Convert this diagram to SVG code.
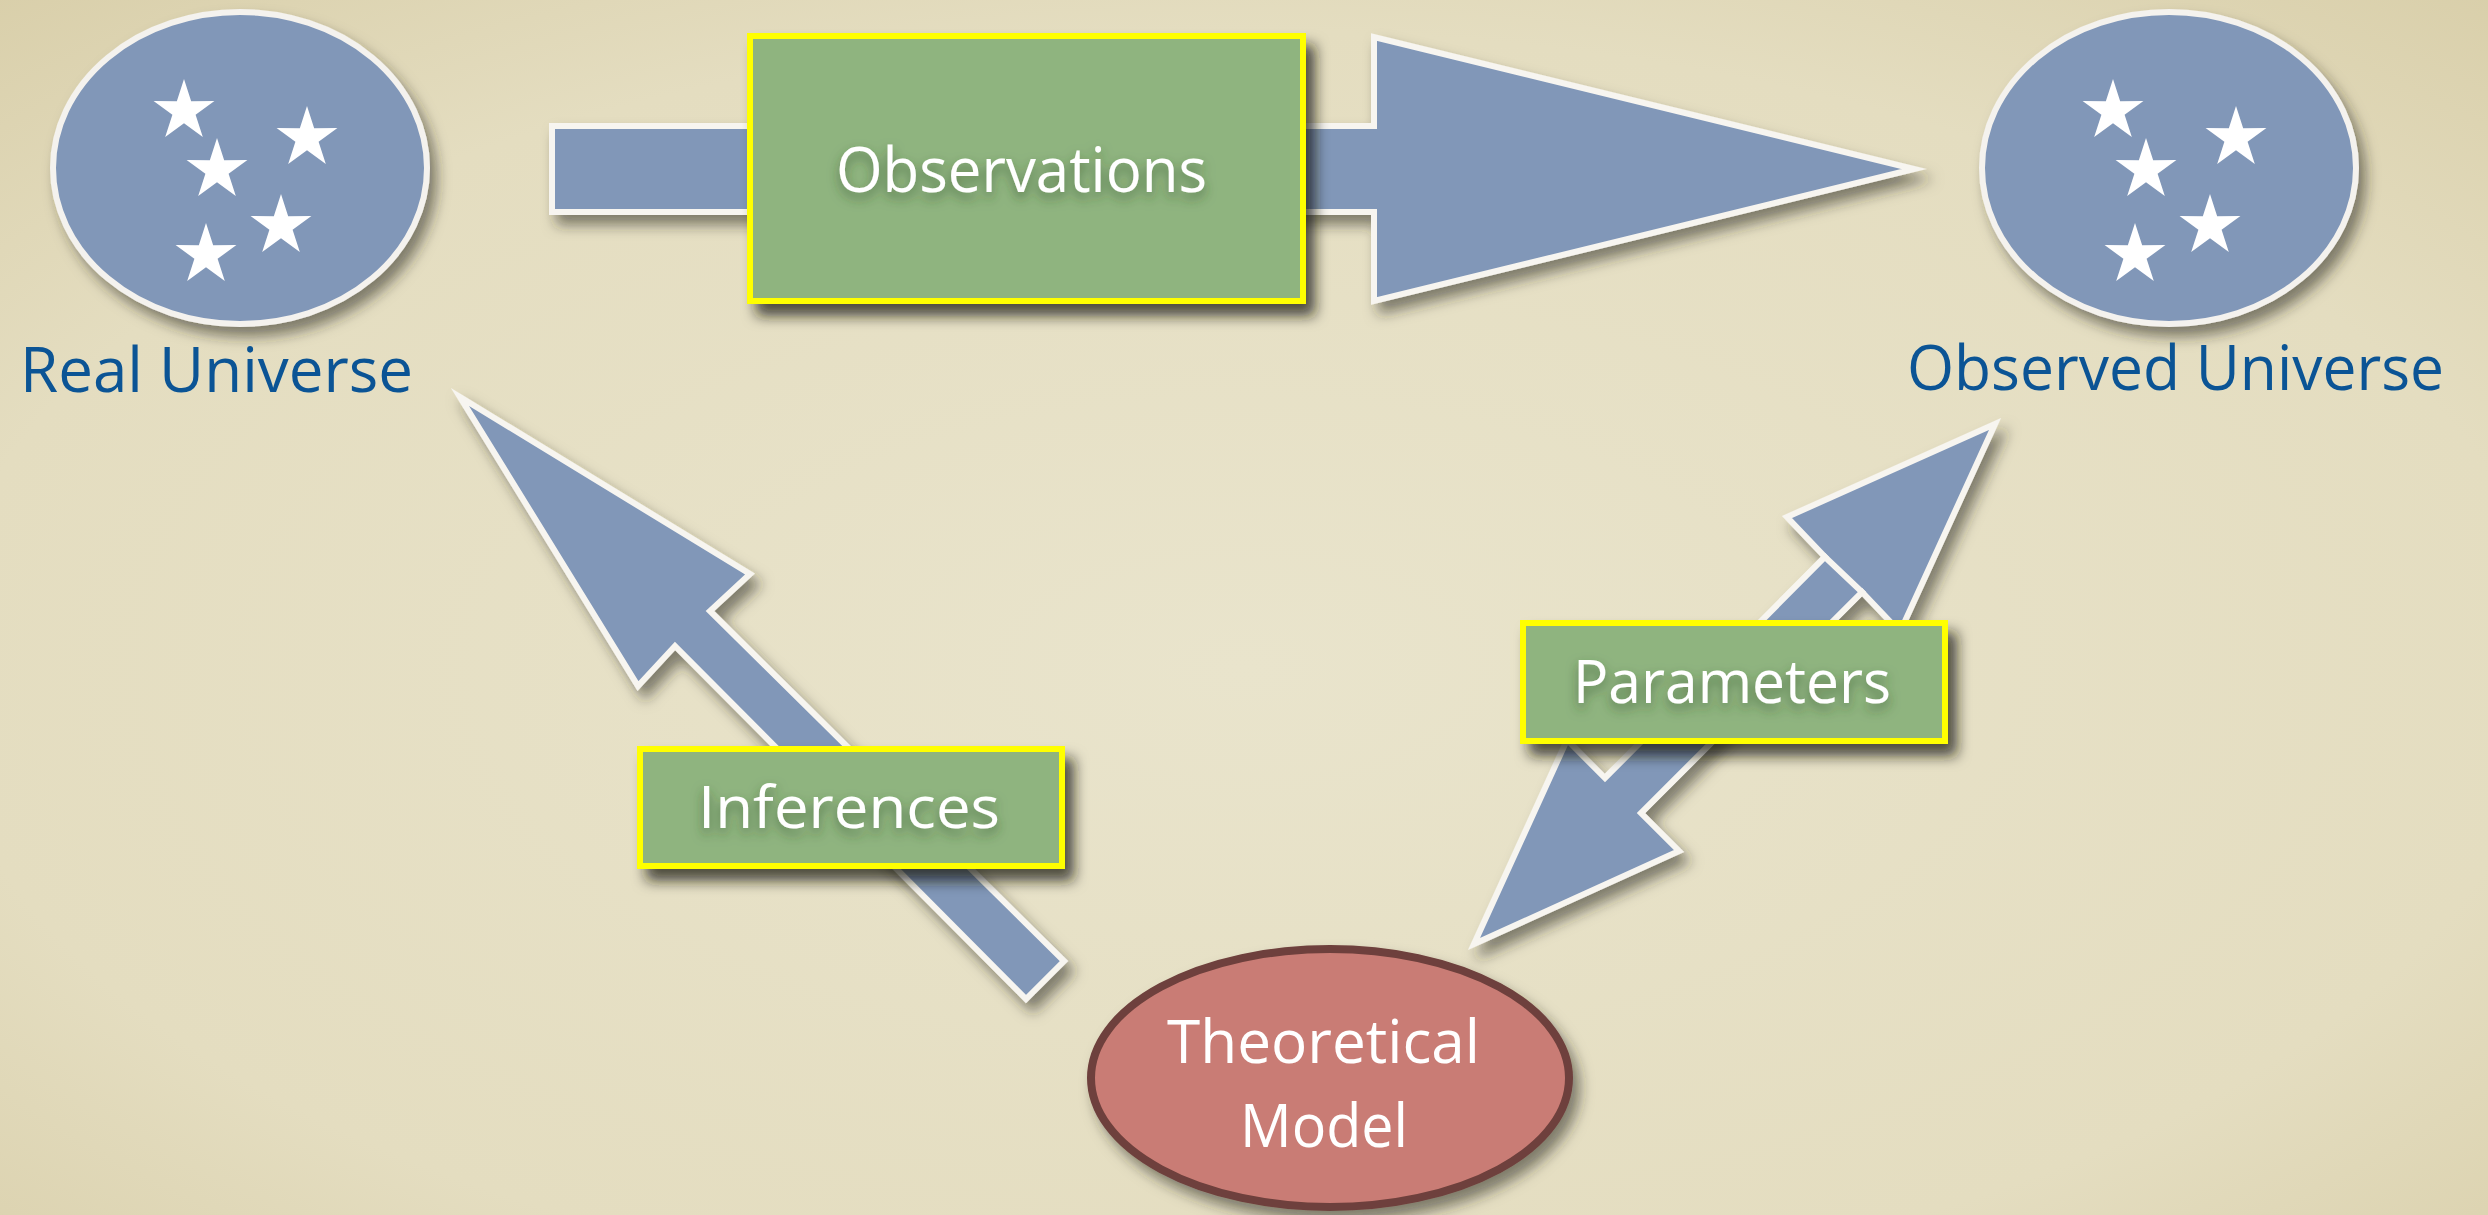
<svg xmlns="http://www.w3.org/2000/svg" width="2488" height="1215" viewBox="0 0 2488 1215">
<defs>
  <radialGradient id="bg" cx="50%" cy="55%" r="75%">
    <stop offset="0" stop-color="#E9E4CC"/>
    <stop offset="0.7" stop-color="#E4DDC0"/>
    <stop offset="1" stop-color="#D9CFAA"/>
  </radialGradient>
  <filter id="sh" x="-20%" y="-20%" width="140%" height="150%">
    <feDropShadow dx="7" dy="10" stdDeviation="7" flood-color="#2a2a1a" flood-opacity="0.55"/>
  </filter>
  <filter id="shBox" x="-20%" y="-20%" width="140%" height="150%">
    <feDropShadow dx="9" dy="12" stdDeviation="7" flood-color="#1a1a10" flood-opacity="0.75"/>
  </filter>
  <filter id="txtGlow" x="-10%" y="-30%" width="120%" height="170%">
    <feDropShadow dx="0" dy="6" stdDeviation="6" flood-color="#2f4a25" flood-opacity="0.6"/>
  </filter>
  <path id="star" d="M0,-32 L7.17,-9.87 L30.43,-9.89 L11.6,3.77 L18.81,25.89 L0,12.2 L-18.81,25.89 L-11.6,3.77 L-30.43,-9.89 L-7.17,-9.87 Z" fill="#FFFFFF"/>
  <g id="stars">
    <use href="#star" x="-56" y="-57"/>
    <use href="#star" x="67" y="-30"/>
    <use href="#star" x="-23" y="2"/>
    <use href="#star" x="41" y="58"/>
    <use href="#star" x="-34" y="87"/>
  </g>
  <style>
    .arrow { fill: #8197B8; stroke: #F7F5F0; stroke-width: 6; stroke-linejoin: miter; stroke-miterlimit: 10; }
    .uni { fill: #8197B8; stroke: #F4F2EE; stroke-width: 6; }
    .lbl { fill: #8FB47F; stroke: #FFFF00; stroke-width: 6; }
    .model { fill: #C97C75; stroke: #6E403C; stroke-width: 8; }
    .t { font-family: "Open Sans", "Noto Sans", "DejaVu Sans", sans-serif; }
    .blue { fill: #0B5495; font-size: 62px; }
    .white { fill: #FFFFFF; }
  </style>
</defs>
<rect x="0" y="0" width="2488" height="1215" fill="url(#bg)"/>

<g id="connectors">
  <g id="edge-observations" filter="url(#sh)">
    <path class="arrow" d="M552,126 L1374,126 L1374,37 L1914,169 L1374,301 L1374,212 L552,212 Z"/>
  </g>
  <g id="edge-inferences" filter="url(#sh)">
    <path class="arrow" d="M460,397 L750,574 L710,611 L1064,961 L1026,999 L675,646 L638,686 Z"/>
  </g>
  <g id="edge-parameters" filter="url(#sh)">
    <path class="arrow" d="M1995,424 L1900,632 L1862,592 L1641,813 L1605,778 L1825,557 L1787,517 Z"/>
    <path class="arrow" d="M1474,944 L1567,740 L1605,778 L1825,557 L1862,592 L1641,813 L1679,851 Z"/>
  </g>
</g>

<g id="node-real-universe">
  <ellipse class="uni" cx="240" cy="168" rx="187" ry="156" filter="url(#sh)"/>
  <use href="#stars" x="240" y="168"/>
  <text class="t blue" x="20" y="392" textLength="393" lengthAdjust="spacingAndGlyphs">Real Universe</text>
</g>

<g id="node-observed-universe">
  <ellipse class="uni" cx="2169" cy="168" rx="187" ry="156" filter="url(#sh)"/>
  <use href="#stars" x="2169" y="168"/>
  <text class="t blue" x="1907" y="390" textLength="537" lengthAdjust="spacingAndGlyphs">Observed Universe</text>
</g>

<g id="node-observations">
  <rect class="lbl" x="750" y="36" width="553" height="265" filter="url(#shBox)"/>
  <text class="t white" x="836" y="192" font-size="62" textLength="371" lengthAdjust="spacingAndGlyphs" filter="url(#txtGlow)">Observations</text>
</g>

<g id="node-inferences">
  <rect class="lbl" x="640" y="749" width="422" height="117" filter="url(#shBox)"/>
  <text class="t white" x="698" y="828" font-size="58" textLength="302" lengthAdjust="spacingAndGlyphs" filter="url(#txtGlow)">Inferences</text>
</g>

<g id="node-parameters">
  <rect class="lbl" x="1523" y="623" width="422" height="118" filter="url(#shBox)"/>
  <text class="t white" x="1573" y="703" font-size="60" textLength="318" lengthAdjust="spacingAndGlyphs" filter="url(#txtGlow)">Parameters</text>
</g>

<g id="node-theoretical-model">
  <ellipse class="model" cx="1330" cy="1078" rx="239" ry="129" filter="url(#sh)"/>
  <text class="t white" x="1167" y="1063" font-size="60" textLength="313" lengthAdjust="spacingAndGlyphs">Theoretical</text>
  <text class="t white" x="1240" y="1147" font-size="60" textLength="168" lengthAdjust="spacingAndGlyphs">Model</text>
</g>
</svg>
